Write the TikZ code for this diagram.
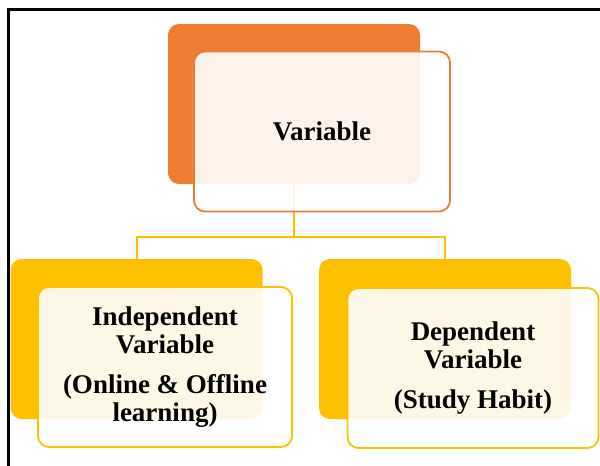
\documentclass[tikz,border=0pt]{standalone}
\usepackage{fontspec}
\setmainfont{Liberation Serif}
\usepackage{xcolor}
\usepackage{tikz}

\definecolor{varorange}{HTML}{ED7D31}
\definecolor{vargold}{HTML}{FFC000}

\tikzset{
  backbox/.style={rounded corners=11pt, minimum width=252pt, minimum height=160pt, inner sep=0pt},
  frontbox/.style={draw, line width=1.8pt, rounded corners=11pt, fill=white, fill opacity=0.9,
    text opacity=1, minimum width=254pt, minimum height=160pt, inner sep=0pt, align=center,
    font=\fontsize{27}{28}\selectfont\bfseries},
  link/.style={draw=vargold, line width=2pt}
}

\begin{document}
\begin{tikzpicture}[x=1pt, y=-1pt]
\useasboundingbox (0,0) rectangle (600,466);

% outer frame
\draw[line width=3pt] (8,466) -- (8,9) -- (600,9);

% coloured blocks behind
\node[backbox, fill=varorange] (varback) at (294,104) {};
\node[backbox, fill=vargold] (indback) at (136.5,339) {};
\node[backbox, fill=vargold] (depback) at (445,339) {};

% tree lines
\coordinate (split) at (294,237);
\draw[link] (varback.south) -- (split);
\draw[link] (split) -| (indback.north);
\draw[link] (split) -| (depback.north);

% text boxes in front
\node[frontbox, draw=varorange, minimum width=256pt] (var) at (322,131.5) {Variable};
\node[frontbox, draw=vargold] (ind) at (165,367)
  {Independent\\Variable\\[12pt](Online \& Offline\\learning)};
\node[frontbox, draw=vargold, minimum width=251pt] (dep) at (473,368)
  {Dependent\\Variable\\[12pt](Study Habit)};

\end{tikzpicture}
\end{document}
